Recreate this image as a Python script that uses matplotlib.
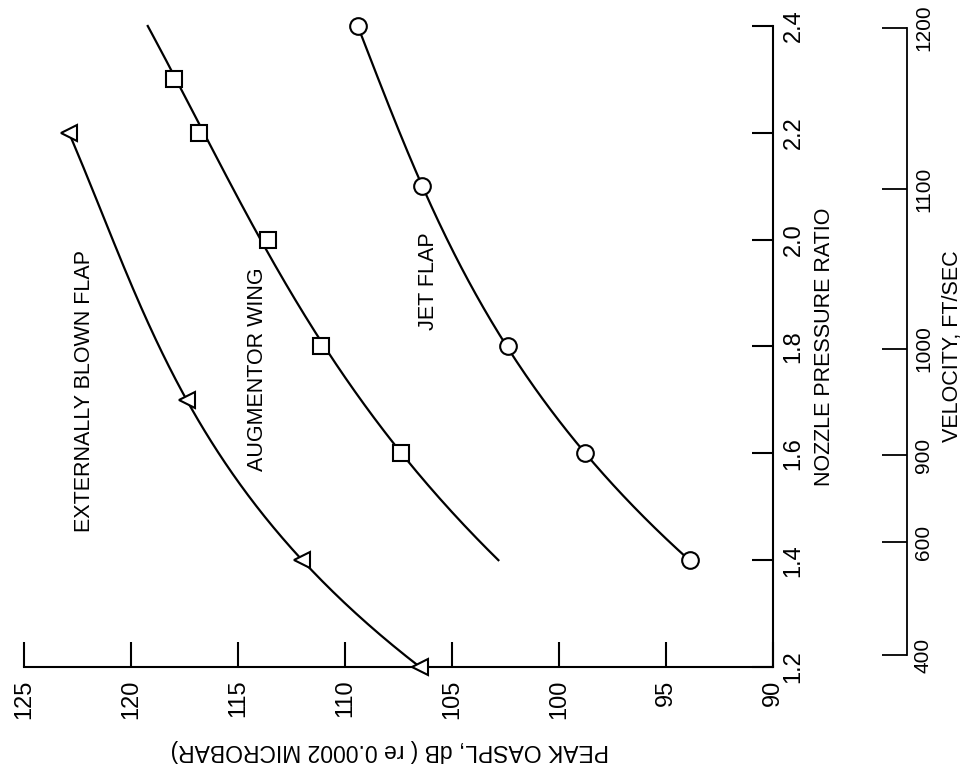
import matplotlib
matplotlib.use('Agg')
import matplotlib.pyplot as plt
import numpy as np

plt.rcParams['font.family'] = ['Liberation Sans', 'DejaVu Sans']

# externally blown flap (triangles)
ebf_npr = [1.2, 1.4, 1.7, 2.2]
ebf_db = [106.5, 112.0, 117.4, 122.9]

# augmentor wing (squares), the curve runs past the symbols at both ends
aug_npr = [1.6, 1.8, 2.0, 2.2, 2.3]
aug_db = [107.4, 111.1, 113.6, 116.8, 118.0]
aug_curve_npr = [1.4, 1.6, 1.8, 2.0, 2.2, 2.3, 2.4]
aug_curve_db = [102.8, 107.4, 111.1, 113.6, 116.8, 118.0, 119.1]

# jet flap (circles)
jf_npr = [1.4, 1.6, 1.8, 2.1, 2.4]
jf_db = [93.9, 98.8, 102.4, 106.4, 109.4]

npr_ticks = [1.2, 1.4, 1.6, 1.8, 2.0, 2.2, 2.4]
db_ticks = [90, 95, 100, 105, 110, 115, 120, 125]
vel_ticks = [400, 600, 900, 1000, 1100, 1200]
vel_tick_npr = [1.222, 1.434, 1.596, 1.796, 2.095, 2.396]


def smooth(npr, db):
    # fair curve through the read points
    c = np.polyfit(npr, db, 3)
    yy = np.linspace(min(npr), max(npr), 200)
    return np.polyval(c, yy), yy


fig = plt.figure(figsize=(9.66, 7.75), dpi=100)
# the page is turned on its side: dB runs right to left, pressure ratio runs up
ax = fig.add_axes([24 / 966, 108 / 775, 749 / 966, 641 / 775])

lw = 1.6
mk = dict(mfc='white', mec='black', mew=1.5, ls='none', ms=12, clip_on=False, zorder=3)

x, y = smooth(ebf_npr, ebf_db)
ax.plot(x, y, color='black', lw=lw, clip_on=False)
ax.plot(ebf_db, ebf_npr, marker='<', **mk)

x, y = smooth(aug_curve_npr, aug_curve_db)
ax.plot(x, y, color='black', lw=lw, clip_on=False)
ax.plot(aug_db, aug_npr, marker='s', **dict(mk, ms=11))

x, y = smooth(jf_npr, jf_db)
ax.plot(x, y, color='black', lw=lw, clip_on=False)
ax.plot(jf_db, jf_npr, marker='o', **mk)

ax.text(122.15, 1.716, 'EXTERNALLY BLOWN FLAP', rotation=90, ha='center', va='center', fontsize=15.5)
ax.text(114.07, 1.757, 'AUGMENTOR WING', rotation=90, ha='center', va='center', fontsize=15.5)
ax.text(106.12, 1.923, 'JET FLAP', rotation=90, ha='center', va='center', fontsize=15.5)

ax.set_xlim(125, 90)
ax.set_ylim(1.2, 2.4)
for s in ['top', 'left']:
    ax.spines[s].set_visible(False)
for s in ['bottom', 'right']:
    ax.spines[s].set_linewidth(1.5)

# velocity scale beside the pressure ratio scale
ax2 = ax.twinx()
ax2.set_ylim(ax.get_ylim())
for s in ['top', 'left', 'bottom']:
    ax2.spines[s].set_visible(False)
ax2.spines['right'].set_position(('axes', 1.1789))
ax2.spines['right'].set_bounds(vel_tick_npr[0], vel_tick_npr[-1])
ax2.spines['right'].set_linewidth(1.3)
ax2.set_yticks(vel_tick_npr, labels=[str(v) for v in vel_ticks], rotation=90, va='center')
ax2.tick_params(axis='y', direction='in', length=18, width=1.3, pad=5, labelsize=15)
ax2.set_ylabel('VELOCITY, FT/SEC', rotation=90, fontsize=15.5, va='center', ha='center')
ax2.yaxis.set_label_coords(1.240, 0.5)

# twinx moves the first axis' ticks to the left, put them back
ax.set_xticks(db_ticks, labels=[str(v) for v in db_ticks], rotation=90)
ax.tick_params(axis='x', direction='in', length=18, width=1.5, pad=9, labelsize=17)
ax.yaxis.tick_right()
ax.set_yticks(npr_ticks, labels=['%.1f' % v for v in npr_ticks], rotation=90, va='center')
ax.tick_params(axis='y', direction='in', length=15, width=1.5, pad=7, labelsize=17)

ax.set_xlabel('PEAK OASPL, dB ( re 0.0002 MICROBAR)', rotation=180, fontsize=16.5, va='center')
ax.xaxis.set_label_coords(0.4887, -0.13)
ax.yaxis.set_label_position('right')
ax.set_ylabel('NOZZLE PRESSURE RATIO', rotation=90, fontsize=15.5, va='center', ha='center')
ax.yaxis.set_label_coords(1.0694, 0.5)

plt.savefig('out.png', dpi=100)
